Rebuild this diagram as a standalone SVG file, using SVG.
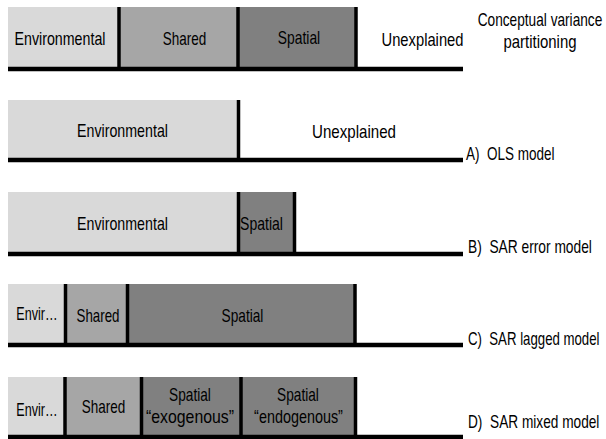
<svg xmlns="http://www.w3.org/2000/svg" width="606" height="439" viewBox="0 0 606 439">
<style>
  text { font-family: "Liberation Sans", Arial, sans-serif; font-size: 18px; fill: #000; white-space: pre; }
  .c { text-anchor: middle; }
  .env { fill: #d9d9d9; }
  .sh { fill: #a6a6a6; }
  .sp { fill: #808080; }
  .div { stroke: #000; stroke-width: 3.5; }
  .base { stroke: #000; stroke-width: 4.5; }
</style>
<rect width="606" height="439" fill="#fff"/>

<!-- Conceptual row -->
<g id="concept">
  <g id="concept-env"><rect class="env" x="8" y="7" width="111" height="61"/><text class="c" transform="translate(60 45) scale(0.79 1)">Environmental</text></g>
  <g id="concept-shared"><rect class="sh" x="119" y="7" width="119" height="61"/><text class="c" transform="translate(184.5 45) scale(0.75 1)">Shared</text></g>
  <g id="concept-spatial"><rect class="sp" x="238" y="7" width="118" height="61"/><text class="c" transform="translate(299 44) scale(0.77 1)">Spatial</text></g>
  <g id="concept-unexplained"><text class="c" transform="translate(422.5 46) scale(0.82 1)">Unexplained</text></g>
  <g id="concept-label"><text class="c" transform="translate(540 26) scale(0.76 1)">Conceptual variance</text><text class="c" transform="translate(540 48) scale(0.83 1)">partitioning</text></g>
</g>

<!-- A) OLS -->
<g id="ols">
  <g id="ols-env"><rect class="env" x="8" y="100" width="230.5" height="59"/><text class="c" transform="translate(122.5 137) scale(0.79 1)">Environmental</text></g>
  <g id="ols-unexplained"><text class="c" transform="translate(354 138) scale(0.84 1)">Unexplained</text></g>
  <g id="ols-label"><text transform="translate(466 160) scale(0.75 1)">A)  OLS model</text></g>
</g>

<!-- B) SAR error -->
<g id="sarerr">
  <g id="sarerr-env"><rect class="env" x="8" y="192" width="230.5" height="61"/><text class="c" transform="translate(122.5 230) scale(0.79 1)">Environmental</text></g>
  <g id="sarerr-spatial"><rect class="sp" x="238.5" y="192" width="56" height="61"/><text class="c" transform="translate(261.5 230) scale(0.78 1)">Spatial</text></g>
  <g id="sarerr-label"><text transform="translate(468 253) scale(0.765 1)">B)  SAR error model</text></g>
</g>

<!-- C) SAR lagged -->
<g id="sarlag">
  <g id="sarlag-env"><rect class="env" x="8" y="284" width="57.5" height="60"/><text class="c" transform="translate(37 320) scale(0.7 1)">Envir…</text></g>
  <g id="sarlag-shared"><rect class="sh" x="65.5" y="284" width="62" height="60"/><text class="c" transform="translate(98 322) scale(0.74 1)">Shared</text></g>
  <g id="sarlag-spatial"><rect class="sp" x="127.5" y="284" width="227.5" height="60"/><text class="c" transform="translate(242.5 322) scale(0.76 1)">Spatial</text></g>
  <g id="sarlag-label"><text transform="translate(468 345) scale(0.735 1)">C)  SAR lagged model</text></g>
</g>

<!-- D) SAR mixed -->
<g id="sarmix">
  <g id="sarmix-env"><rect class="env" x="8" y="377" width="57" height="59"/><text class="c" transform="translate(37 416) scale(0.7 1)">Envir…</text></g>
  <g id="sarmix-shared"><rect class="sh" x="65" y="377" width="76.5" height="59"/><text class="c" transform="translate(103.5 413) scale(0.75 1)">Shared</text></g>
  <g id="sarmix-exo"><rect class="sp" x="141.5" y="377" width="99.5" height="59"/><text class="c" transform="translate(190 401) scale(0.76 1)">Spatial</text><text class="c" transform="translate(190 423) scale(0.88 1)">“exogenous”</text></g>
  <g id="sarmix-endo"><rect class="sp" x="241" y="377" width="114.5" height="59"/><text class="c" transform="translate(298 401) scale(0.76 1)">Spatial</text><text class="c" transform="translate(298.5 423) scale(0.8 1)">“endogenous”</text></g>
  <g id="sarmix-label"><text transform="translate(468 428) scale(0.76 1)">D)  SAR mixed model</text></g>
</g>

<!-- dividers and baselines -->
<g id="connectors">
  <line class="div" x1="119" y1="7" x2="119" y2="68"/>
  <line class="div" x1="238" y1="7" x2="238" y2="68"/>
  <line class="div" x1="356" y1="7" x2="356" y2="68"/>
  <line class="base" x1="8" y1="69" x2="463" y2="69"/>

  <line class="div" x1="238.5" y1="100" x2="238.5" y2="159"/>
  <line class="base" x1="8" y1="160" x2="463" y2="160"/>

  <line class="div" x1="238.5" y1="192" x2="238.5" y2="253"/>
  <line class="div" x1="294.5" y1="192" x2="294.5" y2="253"/>
  <line class="base" x1="8" y1="254" x2="463" y2="254"/>

  <line class="div" x1="65.5" y1="284" x2="65.5" y2="344"/>
  <line class="div" x1="127.5" y1="284" x2="127.5" y2="344"/>
  <line class="div" x1="355" y1="284" x2="355" y2="344"/>
  <line class="base" x1="8" y1="345" x2="463" y2="345"/>

  <line class="div" x1="65" y1="377" x2="65" y2="436"/>
  <line class="div" x1="141.5" y1="377" x2="141.5" y2="436"/>
  <line class="div" x1="241" y1="377" x2="241" y2="436"/>
  <line class="div" x1="355.5" y1="377" x2="355.5" y2="436"/>
  <line class="base" x1="8" y1="437" x2="463" y2="437"/>
</g>
</svg>
